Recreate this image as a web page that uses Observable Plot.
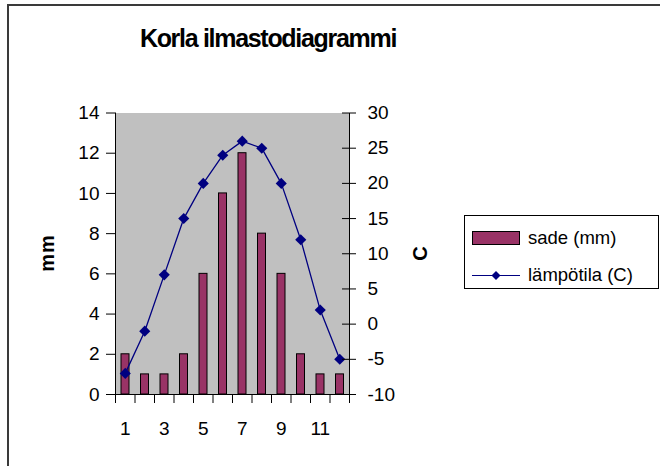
<!DOCTYPE html>
<html>
<head>
<meta charset="utf-8">
<script src="https://cdn.jsdelivr.net/npm/d3@7"></script>
<script src="https://cdn.jsdelivr.net/npm/@observablehq/plot@0.6"></script>
<style>
  html, body { margin: 0; padding: 0; background: #fff; }
  #wrap { position: relative; width: 660px; height: 466px; overflow: hidden; font-family: "Liberation Sans", Arial, sans-serif; color: #000; }
  #wrap svg { position: absolute; left: 0; top: 0; }
  .border { position: absolute; left: 7px; top: 4px; width: 700px; height: 500px; border-top: 2px solid #3a3a3a; border-left: 2px solid #3a3a3a; box-sizing: border-box; }
  .title { position: absolute; left: 0; top: 26px; width: 536px; text-align: center; font-size: 25px; font-weight: bold; line-height: 1; letter-spacing: -1.3px; }
  .ytitle { position: absolute; font-size: 20px; font-weight: bold; line-height: 1; transform: translate(-50%, -50%) rotate(-90deg); white-space: nowrap; letter-spacing: 1px; }
  .legend { position: absolute; left: 464px; top: 215px; width: 195px; height: 74px; box-sizing: border-box; border: 1px solid #000; background: #fff; font-size: 18.5px; }
  .legend .row { position: absolute; left: 7px; display: flex; align-items: center; white-space: nowrap; }
  .legend svg { position: static !important; margin-right: 7px; }
</style>
</head>
<body>
<div id="wrap">
  <div class="border"></div>
</div>
<script>
// ---- data ----
const months = [1, 2, 3, 4, 5, 6, 7, 8, 9, 10, 11, 12];
const rainMM = [2, 1, 1, 2, 6, 10, 12, 8, 6, 2, 1, 1];
const tempC  = [-7, -1, 7, 15, 20, 24, 26, 25, 20, 12, 2, -5];
const mmTicks = [0, 2, 4, 6, 8, 10, 12, 14];
const cTicks = [-10, -5, 0, 5, 10, 15, 20, 25, 30];
const xLabels = [1, 3, 5, 7, 9, 11];
const xBoundaries = [0.5, 1.5, 2.5, 3.5, 4.5, 5.5, 6.5, 7.5, 8.5, 9.5, 10.5, 11.5, 12.5];
const titleText = "Korla ilmastodiagrammi";
const leftTitle = "mm";
const rightTitle = "C";
const seriesNames = ["sade (mm)", "lämpötila (C)"];
const barColor = "#993366";
const lineColor = "#000080";

// secondary axis mapping: C range [-10,30] onto mm range [0,14]
const cMin = -10, cMax = 30, mmMax = 14;
const toMM = c => (c - cMin) * mmMax / (cMax - cMin);
const toC = v => Math.round(v * (cMax - cMin) / mmMax + cMin);

const data = months.map((m, i) => ({m, mm: rainMM[i], c: tempC[i]}));

const fontFamily = "'Liberation Sans', Arial, sans-serif";

const chart = Plot.plot({
  width: 660,
  height: 466,
  marginLeft: 115,
  marginRight: 311,
  marginTop: 112.5,
  marginBottom: 72,
  style: {fontFamily, fontSize: "19px", background: "transparent", color: "#000"},
  x: {type: "linear", domain: [0.5, 12.5]},
  y: {domain: [0, 14]},
  marks: [
    Plot.frame({fill: "#c0c0c0", stroke: null}),
    Plot.rectY(data, {
      x1: d => d.m - 0.5, x2: d => d.m + 0.5, y: "mm",
      fill: barColor, stroke: "#000", strokeWidth: 1,
      insetLeft: 6, insetRight: 5.5
    }),
    Plot.line(data, {x: "m", y: d => toMM(d.c), stroke: lineColor, strokeWidth: 1.3}),
    Plot.dot(data, {x: "m", y: d => toMM(d.c), symbol: "diamond2", r: 5, fill: lineColor, stroke: null}),
    // axis lines
    Plot.ruleX([0.5], {stroke: "#000"}),
    Plot.ruleX([12.5], {stroke: "#000"}),
    Plot.ruleY([0], {stroke: "#000"}),
    // left axis
    Plot.axisY(mmTicks, {anchor: "left", tickSize: 9, tickPadding: 7, fontSize: 19, label: null, tickFormat: d => String(d)}),
    // right axis (temperature) - outer ticks and labels
    Plot.axisY(cTicks.map(toMM), {anchor: "right", tickSize: 6, tickPadding: 12, fontSize: 19, label: null, tickFormat: v => String(toC(v))}),
    // right axis inner part of crossing ticks
    Plot.ruleY(cTicks.map(toMM), {stroke: "#000", insetLeft: 227}),
    // bottom category boundary ticks
    Plot.axisX(xBoundaries, {anchor: "bottom", tickSize: 9, label: null, tickFormat: () => ""}),
    // bottom labels
    Plot.axisX(xLabels, {anchor: "bottom", tickSize: 0, tickPadding: 27, fontSize: 19, label: null, tickFormat: d => String(d)})
  ]
});

const wrap = document.getElementById("wrap");
wrap.insertBefore(chart, wrap.firstChild);

// title
const t = document.createElement("div");
t.className = "title";
t.textContent = titleText;
wrap.appendChild(t);

// axis titles
const lt = document.createElement("div");
lt.className = "ytitle";
lt.style.left = "47px"; lt.style.top = "253px";
lt.textContent = leftTitle;
wrap.appendChild(lt);

const rt = document.createElement("div");
rt.className = "ytitle";
rt.style.left = "420px"; rt.style.top = "253px";
rt.textContent = rightTitle;
wrap.appendChild(rt);

// legend
const lg = document.createElement("div");
lg.className = "legend";
const ns = "http://www.w3.org/2000/svg";
function row(top, swatchFn, label) {
  const r = document.createElement("div");
  r.className = "row";
  r.style.top = top + "px";
  const s = document.createElementNS(ns, "svg");
  s.setAttribute("width", 49); s.setAttribute("height", 16);
  swatchFn(s);
  r.appendChild(s);
  const sp = document.createElement("span");
  sp.textContent = label;
  r.appendChild(sp);
  lg.appendChild(r);
}
row(11, s => {
  const rc = document.createElementNS(ns, "rect");
  rc.setAttribute("x", 0.5); rc.setAttribute("y", 1.5); rc.setAttribute("width", 47); rc.setAttribute("height", 13);
  rc.setAttribute("fill", barColor); rc.setAttribute("stroke", "#000");
  s.appendChild(rc);
}, seriesNames[0]);
row(48, s => {
  const ln = document.createElementNS(ns, "line");
  ln.setAttribute("x1", 0); ln.setAttribute("x2", 48); ln.setAttribute("y1", 8.5); ln.setAttribute("y2", 8.5);
  ln.setAttribute("stroke", lineColor);
  s.appendChild(ln);
  const p = document.createElementNS(ns, "path");
  p.setAttribute("d", "M24,4 L28.5,8.5 L24,13 L19.5,8.5 Z");
  p.setAttribute("fill", lineColor);
  s.appendChild(p);
}, seriesNames[1]);
wrap.appendChild(lg);
</script>
</body>
</html>
